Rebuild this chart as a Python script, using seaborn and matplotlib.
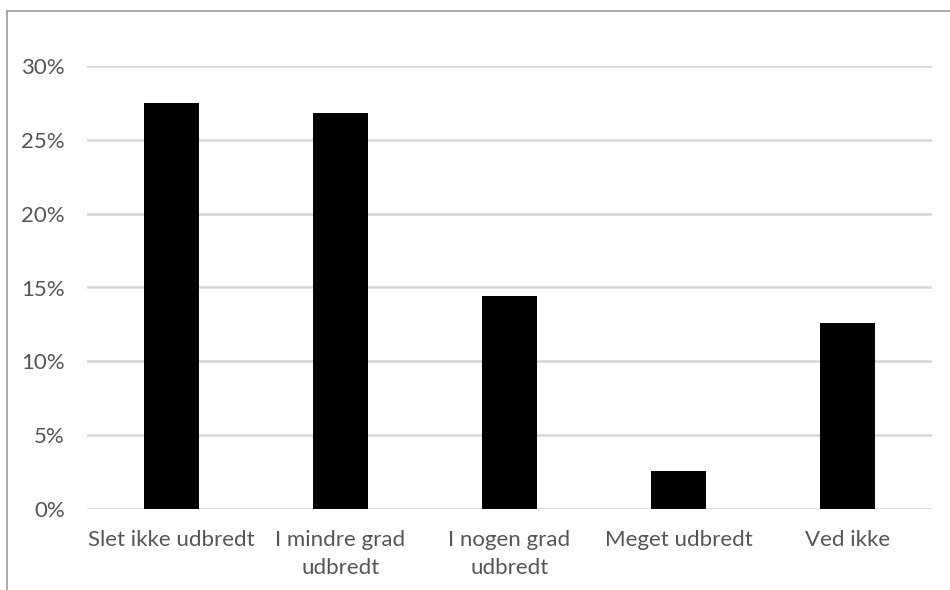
import matplotlib
matplotlib.use("Agg")
import matplotlib.pyplot as plt
from matplotlib.lines import Line2D
from matplotlib.ticker import PercentFormatter, MultipleLocator
import seaborn as sns
import pandas as pd

# Survey answers: how widespread the phenomenon is perceived to be
categories = ["Slet ikke udbredt", "I mindre grad\nudbredt", "I nogen grad\nudbredt",
              "Meget udbredt", "Ved ikke"]
shares = [0.275, 0.268, 0.144, 0.026, 0.126]

df = pd.DataFrame({"svar": categories, "andel": shares})

sns.set_theme(style="white")
plt.rcParams["font.family"] = ["Lato", "DejaVu Sans"]

fig = plt.figure(figsize=(9.5, 5.9), dpi=100)
ax = fig.add_axes([87 / 950, 1 - 509 / 590, (932 - 87) / 950, (509 - 66) / 590])

sns.barplot(data=df, x="svar", y="andel", color="black", width=0.325,
            saturation=1, edgecolor="none", ax=ax, zorder=3)

ax.set_ylim(0, 0.30)
ax.set_xlim(-0.5, len(categories) - 0.5)
ax.yaxis.set_major_locator(MultipleLocator(0.05))
ax.yaxis.set_major_formatter(PercentFormatter(1.0, decimals=0))
ax.grid(axis="y", color="#d6d6d6", linewidth=1.8, zorder=0)
ax.grid(axis="x", visible=False)
for s in ax.spines.values():
    s.set_visible(False)
ax.set_xlabel("")
ax.set_ylabel("")
ax.tick_params(axis="both", length=0, labelsize=16, colors="#555555")
ax.tick_params(axis="y", pad=16)
ax.tick_params(axis="x", pad=15)
for lbl in ax.get_xticklabels():
    lbl.set_linespacing(1.5)

# chart-area frame (top and left edges)
fig.add_artist(Line2D([7 / 950, 7 / 950], [0, 1 - 10.5 / 590], transform=fig.transFigure,
                      color="#9a9a9a", linewidth=1.2))
fig.add_artist(Line2D([7 / 950, 1], [1 - 10.5 / 590, 1 - 10.5 / 590], transform=fig.transFigure,
                      color="#9a9a9a", linewidth=1.2))

fig.savefig("out.png", dpi=100, facecolor="white")
